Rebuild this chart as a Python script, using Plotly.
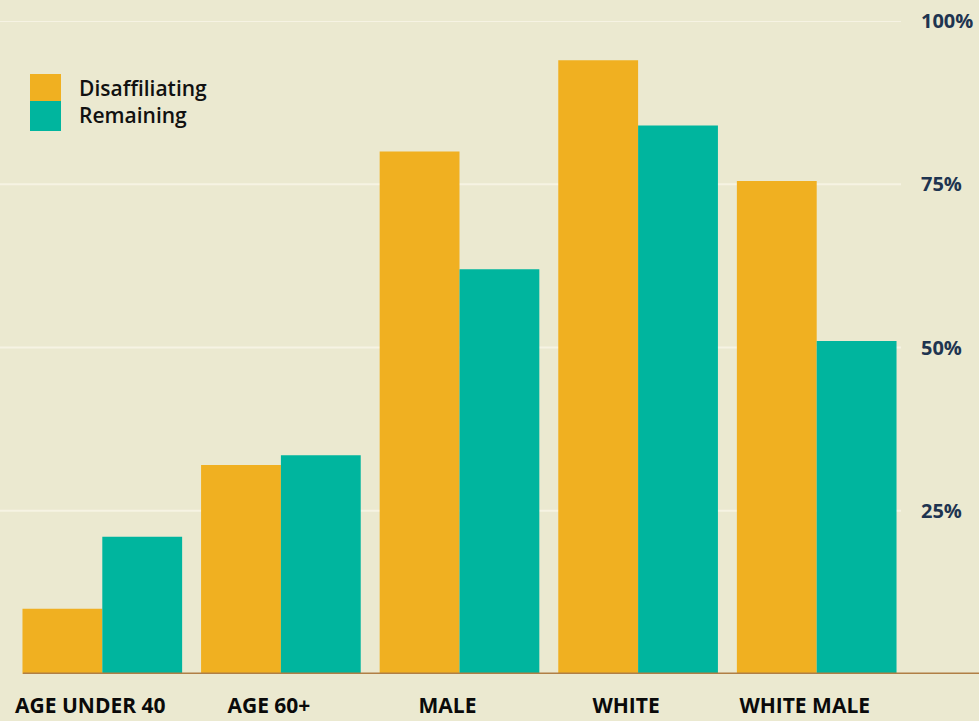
import plotly.graph_objects as go

# Share of each group, in percent
categories = ["AGE UNDER 40", "AGE 60+", "MALE", "WHITE", "WHITE MALE"]
disaffiliating = [10, 32, 80, 94, 75.5]
remaining = [21, 33.5, 62, 84, 51]
y_ticks = [25, 50, 75, 100]
y_tick_text = ["25%", "50%", "75%", "100%"]
series_names = ["Disaffiliating", "Remaining"]

BG = "#EBE9D0"
ORANGE = "#F0B021"
TEAL = "#00B59E"
GRID = "#F6F3E3"
BASE = "#B07F45"

W, H = 979, 721
ML, MR, MT, MB = 13, 73, 21, 47
plot_w = W - ML - MR
plot_h = H - MT - MB

fig = go.Figure()
fig.add_trace(go.Bar(x=categories, y=disaffiliating, name=series_names[0],
                     marker=dict(color=ORANGE, line=dict(width=0))))
fig.add_trace(go.Bar(x=categories, y=remaining, name=series_names[1],
                     marker=dict(color=TEAL, line=dict(width=0))))


def px_to_paper(px):
    return (px - ML) / plot_w


def py_to_paper(py):
    return (H - MB - py) / plot_h


shapes = []
# horizontal gridlines running under the bars
for v in y_ticks:
    shapes.append(dict(type="line", xref="paper", yref="y",
                       x0=px_to_paper(0), x1=px_to_paper(901), y0=v, y1=v,
                       line=dict(color=GRID, width=2), layer="below"))
# baseline at zero
shapes.append(dict(type="line", xref="paper", yref="y",
                   x0=px_to_paper(23), x1=px_to_paper(979), y0=0, y1=0,
                   line=dict(color=BASE, width=3), layer="above"))

# legend swatches
for color, top, bot in [(ORANGE, 74, 101), (TEAL, 101, 131)]:
    shapes.append(dict(type="rect", xref="paper", yref="paper",
                       x0=px_to_paper(30), x1=px_to_paper(61),
                       y0=py_to_paper(bot), y1=py_to_paper(top),
                       fillcolor=color, line=dict(width=0)))

annotations = []
for name, cy in zip(series_names, [88, 115]):
    annotations.append(dict(text=name, xref="paper", yref="paper",
                            x=px_to_paper(77), y=py_to_paper(cy),
                            xanchor="left", yanchor="middle", showarrow=False,
                            font=dict(family="Open Sans", size=21, color="#111111",
                                      weight=600)))

fig.update_layout(
    width=W, height=H,
    margin=dict(l=ML, r=MR, t=MT, b=MB, pad=0),
    paper_bgcolor=BG, plot_bgcolor=BG,
    barmode="group", bargap=0.106, bargroupgap=0,
    showlegend=False,
    shapes=shapes,
    annotations=annotations,
    xaxis=dict(showgrid=False, zeroline=False, showline=False, automargin=False,
               ticks="", ticklabelstandoff=17, ticklabelshift=-12,
               tickfont=dict(family="Open Sans", size=21, color="#0A0A0A",
                             weight="bold")),
    yaxis=dict(range=[0, 100], side="right", showgrid=False, zeroline=False,
               showline=False, automargin=False,
               tickvals=y_ticks, ticktext=y_tick_text,
               ticks="", ticklabelstandoff=14,
               tickfont=dict(family="Open Sans", size=20, color="#1E3450",
                             weight="bold")),
)

fig.write_html("out.html")
